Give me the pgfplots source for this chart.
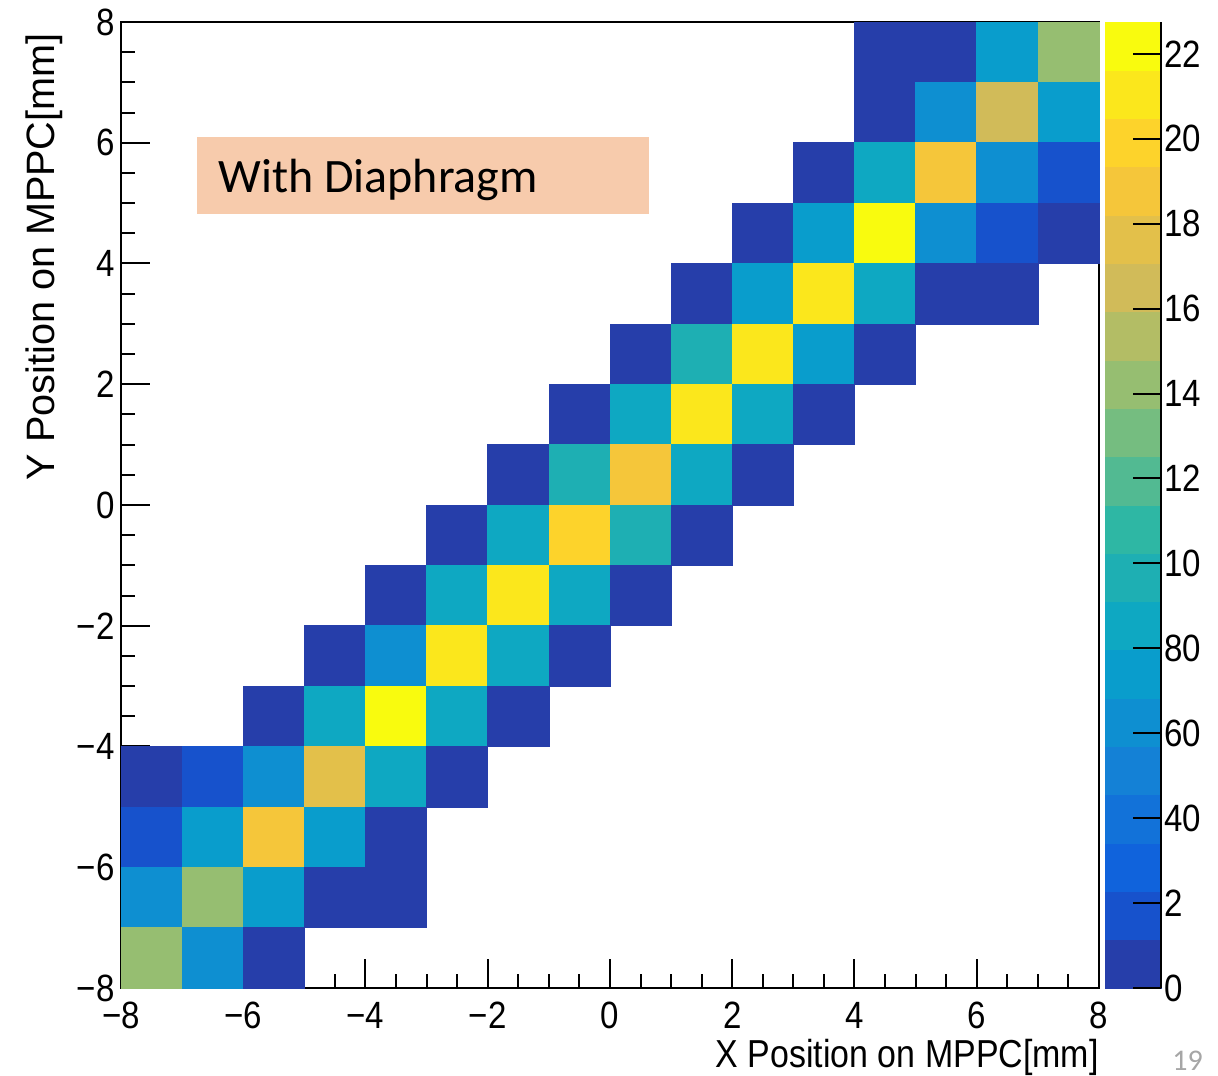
\documentclass[border=0pt]{standalone}
\usepackage{pgfplots}
\pgfplotsset{compat=1.18}
\usepackage{fontspec}
\newfontfamily\rootfont[FakeStretch=0.87]{Liberation Sans}
\newfontfamily\rootfontN{Liberation Sans}
\newfontfamily\calibri{Carlito}
\definecolor{peach}{RGB}{247,203,172}
\definecolor{pagegray}{RGB}{166,166,166}
\pgfdeclareplotmark{cell}{%
  \pgfpathrectangle{\pgfpoint{-15.28125pt}{-15.09375pt}}{\pgfpoint{30.5625pt}{30.1875pt}}%
  \pgfusepathqfillstroke}
\pgfplotsset{
  colormap={bird20}{
    rgb=(0.1486,0.2438,0.6649)
    rgb=(0.0890,0.3212,0.8006)
    rgb=(0.0630,0.3887,0.8624)
    rgb=(0.0705,0.4464,0.8505)
    rgb=(0.0780,0.5041,0.8385)
    rgb=(0.0561,0.5592,0.8197)
    rgb=(0.0342,0.6143,0.8008)
    rgb=(0.0546,0.6571,0.7616)
    rgb=(0.1174,0.6874,0.7021)
    rgb=(0.1802,0.7178,0.6425)
    rgb=(0.3202,0.7304,0.5720)
    rgb=(0.4601,0.7429,0.5015)
    rgb=(0.5878,0.7459,0.4429)
    rgb=(0.7032,0.7394,0.3964)
    rgb=(0.8186,0.7328,0.3499)
    rgb=(0.8894,0.7542,0.2887)
    rgb=(0.9602,0.7755,0.2274)
    rgb=(0.9918,0.8256,0.1682)
    rgb=(0.9841,0.9044,0.1111)
    rgb=(0.9764,0.9832,0.0539)
  }
}
\begin{document}
\begin{tikzpicture}
\path[use as bounding box] (-60.5pt,-43.5pt) rectangle (548.5pt,494pt);
% frame under the cells
\begin{axis}[at={(0,0)}, anchor=south west, scale only axis,
  width=489pt, height=483pt, xmin=-8, xmax=8, ymin=-8, ymax=8,
  xtick=\empty, ytick=\empty, axis line style={line width=1.1pt}]
\end{axis}
\begin{axis}[name=main, at={(0,0)}, anchor=south west, scale only axis,
  width=489pt, height=483pt, xmin=-8, xmax=8, ymin=-8, ymax=8,
  axis x line*=bottom, axis y line*=left, axis on top,
  axis line style={line width=1.1pt},
  xtick={-8,-6,...,8}, ytick={-8,-6,...,8},
  xticklabels={−8,−6,−4,−2,0,2,4,6,8},
  yticklabels={−8,−6,−4,−2,0,2,4,6,8},
  minor tick num=3, tick align=inside,
  major tick length=14.5pt, minor tick length=7pt,
  every tick/.style={black, line width=1pt},
  xticklabel style={font=\rootfont\fontsize{19pt}{20pt}\selectfont, anchor=north, inner sep=0pt, yshift=-7pt},
  yticklabel style={font=\rootfont\fontsize{19pt}{20pt}\selectfont, anchor=east, inner sep=0pt, xshift=-3pt},
  xlabel={X Position on MPPC[mm]},
  ylabel={Y Position on MPPC[mm]},
  every axis x label/.style={at={(axis description cs:1,-0.0828)}, anchor=base east, inner sep=0pt, font=\rootfont\fontsize{19.5pt}{21pt}\selectfont},
  every axis y label/.style={at={(axis description cs:-0.0675,0.9886)}, rotate=90, anchor=base east, inner sep=0pt, font=\rootfontN\fontsize{19.8pt}{21pt}\selectfont},
  colormap name=bird20, colormap access=piecewise constant,
  point meta min=0, point meta max=227.5,
  colorbar,
  colorbar style={
    at={(parent axis.north east)}, anchor=north west, xshift=-5.5pt,
    width=28pt,
    ytick={0,20,...,220},
    yticklabels={0,2,40,60,80,10,12,14,16,18,20,22},
    axis y line*=right, axis x line=none,
    tick align=inside, major tick length=14pt,
    every tick/.style={black, line width=1pt},
    axis line style={line width=1.1pt},
    yticklabel style={font=\rootfont\fontsize{19pt}{20pt}\selectfont, anchor=west, inner sep=0pt, xshift=1.5pt},
  },
]
\addplot[scatter, only marks, mark=cell, point meta=explicit,
  scatter/use mapped color={draw=mapped color, fill=mapped color},
  mark options={line width=0.3pt}]
  table[x=x, y=y, meta=v] {
x y v
4.5 7.5 5
5.5 7.5 5
6.5 7.5 74
7.5 7.5 142
4.5 6.5 5
5.5 6.5 63
6.5 6.5 165
7.5 6.5 74
3.5 5.5 5
4.5 5.5 85
5.5 5.5 188
6.5 5.5 63
7.5 5.5 17
2.5 4.5 5
3.5 4.5 74
4.5 4.5 222
5.5 4.5 63
6.5 4.5 17
7.5 4.5 5
1.5 3.5 5
2.5 3.5 74
3.5 3.5 210
4.5 3.5 85
5.5 3.5 5
6.5 3.5 5
0.5 2.5 5
1.5 2.5 97
2.5 2.5 210
3.5 2.5 74
4.5 2.5 5
-0.5 1.5 5
0.5 1.5 85
1.5 1.5 210
2.5 1.5 85
3.5 1.5 5
-1.5 0.5 5
-0.5 0.5 97
0.5 0.5 188
1.5 0.5 85
2.5 0.5 5
-2.5 -0.5 5
-1.5 -0.5 85
-0.5 -0.5 199
0.5 -0.5 97
1.5 -0.5 5
-3.5 -1.5 5
-2.5 -1.5 85
-1.5 -1.5 210
-0.5 -1.5 85
0.5 -1.5 5
-4.5 -2.5 5
-3.5 -2.5 63
-2.5 -2.5 210
-1.5 -2.5 85
-0.5 -2.5 5
-5.5 -3.5 5
-4.5 -3.5 85
-3.5 -3.5 222
-2.5 -3.5 85
-1.5 -3.5 5
-7.5 -4.5 5
-6.5 -4.5 17
-5.5 -4.5 63
-4.5 -4.5 176
-3.5 -4.5 85
-2.5 -4.5 5
-7.5 -5.5 17
-6.5 -5.5 74
-5.5 -5.5 188
-4.5 -5.5 74
-3.5 -5.5 5
-7.5 -6.5 63
-6.5 -6.5 142
-5.5 -6.5 74
-4.5 -6.5 5
-3.5 -6.5 5
-7.5 -7.5 142
-6.5 -7.5 63
-5.5 -7.5 5
};
\node[fill=peach, minimum width=226pt, minimum height=38.5pt, anchor=north west, inner sep=0pt] at (axis cs:-6.757,6.095) {};
\node[anchor=base west, inner sep=0pt, font=\calibri\fontsize{24pt}{28pt}\selectfont] at (axis cs:-6.413,5.168) {With Diaphragm};
\end{axis}
\node[anchor=base west, inner sep=0pt, text=pagegray, font=\calibri\fontsize{15pt}{18pt}\selectfont] at (525.5pt,-41pt) {19};
\end{tikzpicture}
\end{document}
